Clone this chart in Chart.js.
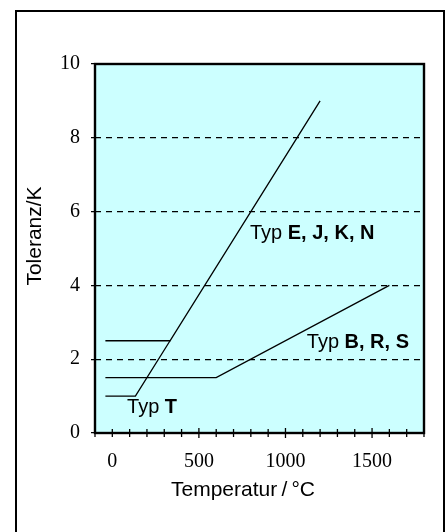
<!DOCTYPE html>
<html>
<head>
<meta charset="utf-8">
<script src="https://cdn.jsdelivr.net/npm/chart.js@4.4.0/dist/chart.umd.min.js"></script>
<style>
  html, body { margin: 0; padding: 0; background: #fff; }
</style>
</head>
<body>
<canvas id="chart" width="448" height="532"></canvas>
<script>
// tolerance curves, [temperature °C, tolerance K]
const typT = [[-40, 1], [133.3, 1], [333.3, 2.5]];
const typEJKN = [[-40, 2.5], [333.3, 2.5], [1200, 9]];
const typBRS = [[-40, 1.5], [600, 1.5], [1600, 4]];

const xLabels = [0, 500, 1000, 1500];
const yTickValues = [0, 2, 4, 6, 8, 10];

// curve labels, anchored in data units (left edge, vertical middle)
const curveNotes = [
  { x: 795, y: 5.42, plain: "Typ ", bold: "E, J, K, N" },
  { x: 1123, y: 2.44, plain: "Typ ", bold: "B, R, S" },
  { x: 85, y: 0.68, plain: "Typ ", bold: "T" },
];

const SANS = "'Liberation Sans', Arial, sans-serif";
const SERIF = "'Liberation Serif', 'Times New Roman', serif";

const toXY = (arr) => arr.map(([x, y]) => ({ x, y }));

const lineStyle = {
  borderColor: "#000",
  borderWidth: 1.3,
  pointRadius: 0,
  showLine: true,
  tension: 0,
  fill: false,
};

const frame = {
  id: "frame",
  beforeDraw(chart) {
    const { ctx, chartArea: a } = chart;
    ctx.save();
    ctx.fillStyle = "#fff";
    ctx.fillRect(0, 0, chart.width, chart.height);
    ctx.fillStyle = "#ccffff";
    ctx.fillRect(a.left, a.top, a.right - a.left, a.bottom - a.top);
    ctx.restore();
  },
  afterDraw(chart) {
    const { ctx, chartArea: a, scales } = chart;
    const xs = scales.x, ys = scales.y;
    ctx.save();

    // plot border
    ctx.strokeStyle = "#000";
    ctx.lineWidth = 2.4;
    ctx.strokeRect(a.left, a.top, a.right - a.left, a.bottom - a.top);

    // x ticks crossing the axis
    ctx.lineWidth = 1.3;
    xs.ticks.forEach((t) => {
      const px = xs.getPixelForValue(t.value);
      const big = t.value > 0 && t.value % 500 === 0;
      const h = big ? 5 : 4;
      ctx.beginPath();
      ctx.moveTo(px, a.bottom - h);
      ctx.lineTo(px, a.bottom + h);
      ctx.stroke();
    });

    // curve labels
    ctx.fillStyle = "#000";
    ctx.textBaseline = "middle";
    ctx.textAlign = "left";
    curveNotes.forEach((n) => {
      const px = xs.getPixelForValue(n.x);
      const py = ys.getPixelForValue(n.y);
      ctx.font = "20px " + SANS;
      ctx.fillText(n.plain, px, py);
      const w = ctx.measureText(n.plain).width;
      ctx.font = "bold 20px " + SANS;
      ctx.fillText(n.bold, px + w, py);
    });

    // axis titles
    ctx.font = "21px " + SANS;
    ctx.textAlign = "center";
    ctx.fillText("Temperatur\u2009/\u2009°C", 243, 490);
    ctx.translate(35, 236);
    ctx.rotate(-Math.PI / 2);
    ctx.fillText("Toleranz/K", 0, 0);
    ctx.setTransform(1, 0, 0, 1, 0, 0);

    // outer frame
    ctx.lineWidth = 2;
    ctx.strokeRect(16, 11, 428, 540);
    ctx.restore();
  },
};

new Chart(document.getElementById("chart"), {
  type: "scatter",
  data: {
    datasets: [
      { label: "Typ T", data: toXY(typT), ...lineStyle },
      { label: "Typ E, J, K, N", data: toXY(typEJKN), ...lineStyle },
      { label: "Typ B, R, S", data: toXY(typBRS), ...lineStyle },
    ],
  },
  options: {
    responsive: false,
    animation: false,
    devicePixelRatio: 1,
    layout: { padding: { left: 0, top: 64, right: 24, bottom: 0 } },
    plugins: {
      legend: { display: false },
      tooltip: { enabled: false },
    },
    scales: {
      x: {
        type: "linear",
        min: -100,
        max: 1800,
        afterFit: (s) => { s.height = 99; },
        border: { display: false },
        grid: { drawOnChartArea: false, drawTicks: false, color: "transparent" },
        ticks: {
          stepSize: 100,
          autoSkip: false,
          maxRotation: 0,
          padding: 17,
          color: "#000",
          font: { family: SERIF, size: 20 },
          callback: (v) => (xLabels.includes(v) ? String(v) : ""),
        },
      },
      y: {
        type: "linear",
        min: 0,
        max: 10,
        afterFit: (s) => { s.width = 95; },
        afterBuildTicks: (s) => { s.ticks = yTickValues.map((v) => ({ value: v })); },
        border: { display: false, dash: [6, 5] },
        grid: {
          color: (c) => (c.tick && (c.tick.value === 0 || c.tick.value === 10) ? "transparent" : "#000"),
          lineWidth: 1.3,
          tickColor: "#000",
          tickLength: 4,
          tickWidth: 1.3,
          tickBorderDash: [1, 0],
        },
        ticks: {
          padding: 11,
          color: "#000",
          font: { family: SERIF, size: 20 },
        },
      },
    },
  },
  plugins: [frame],
});
</script>
</body>
</html>
